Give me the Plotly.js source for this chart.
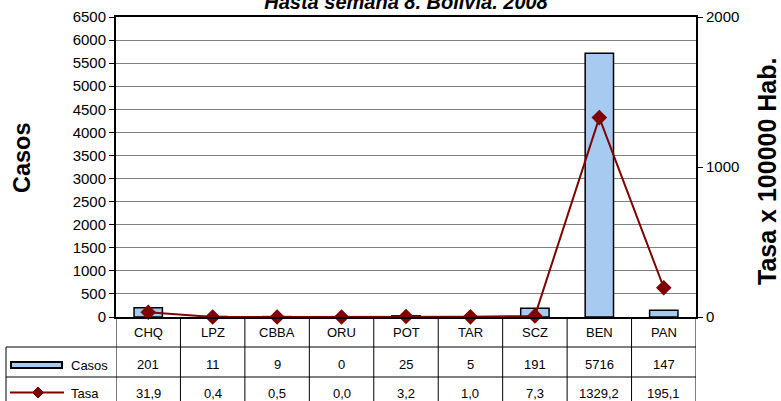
<!DOCTYPE html>
<html>
<head>
<meta charset="utf-8">
<script src="https://cdn.plot.ly/plotly-3.0.1.min.js"></script>
<style>
  html, body { margin: 0; padding: 0; background: #fff; }
  #chart { width: 781px; height: 401px; }
</style>
</head>
<body>
<div id="chart"></div>
<script>
// departamentos
let categories = ["CHQ", "LPZ", "CBBA", "ORU", "POT", "TAR", "SCZ", "BEN", "PAN"];
let casos = [201, 11, 9, 0, 25, 5, 191, 5716, 147];
let tasa = [31.9, 0.4, 0.5, 0.0, 3.2, 1.0, 7.3, 1329.2, 195.1];
let casosLabels = ["201", "11", "9", "0", "25", "5", "191", "5716", "147"];
let tasaLabels = ["31,9", "0,4", "0,5", "0,0", "3,2", "1,0", "7,3", "1329,2", "195,1"];

let font = "Liberation Sans, Arial, sans-serif";
let red = "#800000";
let blue = "#a6caf0";

// plot area in px: x 116..696, y 17..317
let px = function(x){ return (x - 116) / 580; };
let py = function(y){ return (317 - y) / 300; };

let data = [
  {
    type: "bar", x: categories, y: casos, name: "Casos", width: 0.44,
    marker: {color: blue, line: {color: "#000", width: 1.5}},
    hoverinfo: "skip"
  },
  {
    type: "scatter", mode: "lines+markers", x: categories, y: tasa, name: "Tasa", yaxis: "y2",
    line: {color: red, width: 2},
    marker: {symbol: "diamond", size: 12, color: red},
    cliponaxis: false, hoverinfo: "skip"
  }
];

let shapes = [];
let annotations = [];

// table grid
let rowLines = [py(347), py(377)];
rowLines.forEach(function(y){
  shapes.push({type: "line", xref: "paper", yref: "paper", x0: px(6), x1: 1, y0: y, y1: y,
    line: {color: "#000", width: 1}});
});
for (let i = 0; i <= categories.length; i++) {
  shapes.push({type: "line", xref: "x", yref: "paper", x0: i - 0.5, x1: i - 0.5, y0: 0, y1: py(402),
    line: {color: "#000", width: 1}});
}
shapes.push({type: "line", xref: "paper", yref: "paper", x0: px(6), x1: px(6), y0: py(347), y1: py(402),
  line: {color: "#000", width: 1}});

// legend symbols in table
shapes.push({type: "rect", xref: "paper", yref: "paper", x0: px(11), x1: px(62), y0: py(362), y1: py(368),
  fillcolor: blue, line: {color: "#000", width: 2}});
shapes.push({type: "line", xref: "paper", yref: "paper", x0: px(10), x1: px(64), y0: py(392.5), y1: py(392.5),
  line: {color: red, width: 2}});
let dx = 5.5 / 580, dy = 5.5 / 300, cx = px(38), cy = py(392.5);
shapes.push({type: "path", xref: "paper", yref: "paper",
  path: "M " + (cx - dx) + " " + cy + " L " + cx + " " + (cy + dy) + " L " + (cx + dx) + " " + cy + " L " + cx + " " + (cy - dy) + " Z",
  fillcolor: red, line: {color: red, width: 1}});

let cellFont = {family: font, size: 13, color: "#000"};
annotations.push({xref: "paper", yref: "paper", x: px(69), y: py(365), text: "Casos", showarrow: false,
  xanchor: "left", yanchor: "middle", font: cellFont});
annotations.push({xref: "paper", yref: "paper", x: px(69), y: py(393), text: "Tasa", showarrow: false,
  xanchor: "left", yanchor: "middle", font: cellFont});

for (let i = 0; i < categories.length; i++) {
  annotations.push({xref: "x", yref: "paper", x: categories[i], y: py(332), text: categories[i], showarrow: false,
    yanchor: "middle", font: cellFont});
  annotations.push({xref: "x", yref: "paper", x: categories[i], y: py(364), text: casosLabels[i], showarrow: false,
    yanchor: "middle", font: cellFont});
  annotations.push({xref: "x", yref: "paper", x: categories[i], y: py(393), text: tasaLabels[i], showarrow: false,
    yanchor: "middle", font: cellFont});
}

// axis titles, placed off-centre like the original
annotations.push({xref: "paper", yref: "paper", x: px(22), y: py(158), text: "<b>Casos</b>", textangle: -90,
  showarrow: false, xanchor: "center", yanchor: "middle", font: {family: font, size: 23.5, color: "#000"}});
annotations.push({xref: "paper", yref: "paper", x: px(767), y: py(172), text: "<b>Tasa x 100000 Hab.</b>", textangle: -90,
  showarrow: false, xanchor: "center", yanchor: "middle", font: {family: font, size: 25, color: "#000"}});

let layout = {
  width: 781, height: 401,
  margin: {l: 116, r: 85, t: 17, b: 84},
  paper_bgcolor: "#fff", plot_bgcolor: "#fff",
  showlegend: false,
  font: {family: font, size: 12, color: "#000"},
  title: {
    text: "<b><i>Hasta semana 8. Bolivia. 2008</i></b>",
    x: 406 / 781, xanchor: "center", y: 1 - 2 / 401, yanchor: "middle",
    font: {family: font, size: 20, color: "#000"}
  },
  xaxis: {
    type: "category", range: [-0.5, 8.5], showticklabels: false, ticks: "",
    showline: true, mirror: true, linecolor: "#000", linewidth: 2, showgrid: false, zeroline: false, fixedrange: true
  },
  yaxis: {
    range: [0, 6500], dtick: 500, tick0: 0, ticks: "outside", ticklen: 5, tickcolor: "#000",
    showline: true, linecolor: "#000", linewidth: 2,
    showgrid: true, gridcolor: "#808080", gridwidth: 1, zeroline: false,
    tickfont: {family: font, size: 15, color: "#000"},
    fixedrange: true
  },
  yaxis2: {
    overlaying: "y", side: "right", range: [0, 2000], dtick: 1000, tick0: 0,
    ticks: "outside", ticklen: 5, tickcolor: "#000",
    showline: true, linecolor: "#000", linewidth: 2, showgrid: false, zeroline: false,
    tickfont: {family: font, size: 15, color: "#000"},
    fixedrange: true
  },
  shapes: shapes,
  annotations: annotations
};

Plotly.newPlot("chart", data, layout, {displayModeBar: false, staticPlot: true});
</script>
</body>
</html>
